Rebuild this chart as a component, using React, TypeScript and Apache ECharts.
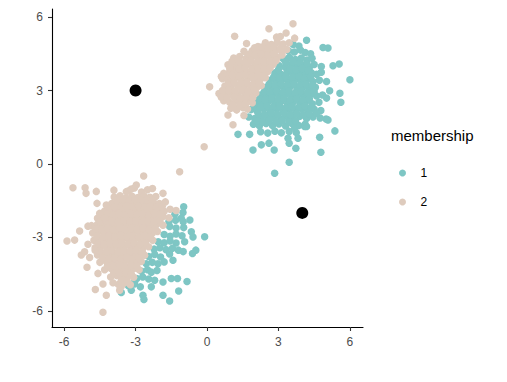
import React, { useEffect, useRef } from "react";
import * as echarts from "echarts";

const xTicks = [-6, -3, 0, 3, 6];
const yTicks = [-6, -3, 0, 3, 6];
const legendTitle = "membership";
const groupNames = ["1", "2"];
const groupColors = ["#7EC6C4", "#DECBBD"];

// membership 1 (teal)
const member1: number[][] = [
  // upper cluster
  [3.62, 4.88], [3.86, 4.82], [4.18, 5.05],
  [3.42, 4.62], [3.67, 4.57], [3.93, 4.65], [4.12, 4.55], [4.35, 4.5],
  [3.2, 4.3], [3.46, 4.36], [3.71, 4.27], [3.96, 4.33], [4.2, 4.24], [4.41, 4.32],
  [3.02, 4.02], [3.27, 3.96], [3.55, 4.05], [3.8, 3.98], [4.06, 4.04], [4.3, 3.95], [4.5, 4.06],
  [2.85, 3.72], [3.1, 3.66], [3.36, 3.75], [3.6, 3.68], [3.88, 3.74], [4.12, 3.65], [4.38, 3.73], [4.6, 3.66],
  [2.65, 3.42], [2.9, 3.36], [3.16, 3.45], [3.42, 3.38], [3.7, 3.44], [3.95, 3.35], [4.2, 3.43], [4.45, 3.37], [4.72, 3.42],
  [2.45, 3.12], [2.72, 3.06], [2.98, 3.14], [3.25, 3.08], [3.5, 3.15], [3.78, 3.05], [4.02, 3.12], [4.3, 3.07], [4.55, 3.13],
  [2.25, 2.82], [2.5, 2.76], [2.78, 2.85], [3.05, 2.78], [3.3, 2.84], [3.56, 2.76], [3.82, 2.83], [4.08, 2.77], [4.35, 2.85], [4.6, 2.78], [4.85, 2.82],
  [2.05, 2.52], [2.3, 2.46], [2.58, 2.55], [2.85, 2.47], [3.1, 2.54], [3.38, 2.45], [3.62, 2.53], [3.9, 2.48], [4.15, 2.55], [4.42, 2.46], [4.7, 2.52],
  [1.85, 2.22], [2.1, 2.16], [2.38, 2.25], [2.65, 2.17], [2.92, 2.24], [3.2, 2.15], [3.45, 2.23], [3.72, 2.18], [3.98, 2.24], [4.25, 2.16], [4.5, 2.23], [4.78, 2.18],
  [1.75, 1.92], [2.0, 1.86], [2.28, 1.95], [2.55, 1.87], [2.82, 1.93], [3.1, 1.85], [3.36, 1.94], [3.62, 1.88], [3.9, 1.95], [4.18, 1.86], [4.45, 1.92], [4.75, 1.88], [5.0, 1.84],
  [1.95, 1.62], [2.2, 1.56], [2.48, 1.65], [2.75, 1.57], [3.02, 1.63], [3.3, 1.55], [3.58, 1.64], [3.85, 1.57], [4.12, 1.62],
  [2.25, 1.32], [2.55, 1.26], [2.85, 1.34], [3.12, 1.27], [3.45, 1.33], [3.75, 1.28],
  // fill between rows in the dense core
  [3.3, 4.15], [3.6, 4.18], [3.9, 4.12], [4.2, 4.1], [3.0, 3.85], [3.5, 3.88], [3.75, 3.84], [4.0, 3.9], [4.25, 3.82],
  [2.8, 3.55], [3.05, 3.52], [3.3, 3.58], [3.58, 3.53], [3.85, 3.57], [4.1, 3.5], [4.35, 3.56],
  [2.6, 3.25], [2.85, 3.22], [3.12, 3.28], [3.38, 3.22], [3.65, 3.27], [3.9, 3.2], [4.15, 3.26], [4.42, 3.22],
  [2.4, 2.95], [2.65, 2.92], [2.92, 2.98], [3.18, 2.93], [3.44, 2.97], [3.7, 2.91], [3.95, 2.96], [4.22, 2.92], [4.5, 2.97],
  [2.2, 2.65], [2.45, 2.62], [2.72, 2.68], [2.98, 2.63], [3.24, 2.67], [3.5, 2.61], [3.76, 2.66], [4.02, 2.62], [4.3, 2.66],
  [2.0, 2.35], [2.25, 2.32], [2.52, 2.38], [2.78, 2.33], [3.05, 2.37], [3.32, 2.31], [3.58, 2.36], [3.85, 2.31], [4.12, 2.37], [4.38, 2.33],
  [2.15, 2.05], [2.42, 2.02], [2.7, 2.08], [2.96, 2.03], [3.24, 2.07], [3.5, 2.02], [3.76, 2.06], [4.04, 2.02], [4.3, 2.05],
  [2.1, 1.75], [2.35, 1.72], [2.62, 1.78], [2.9, 1.73], [3.16, 1.77], [3.44, 1.72], [3.72, 1.76],
  [4.87, 4.76], [5.08, 4.74], [4.8, 3.98], [4.8, 3.75], [5.29, 4.01], [5.55, 4.08], [6.0, 3.44],
  [5.02, 3.37], [5.15, 2.99], [5.58, 2.89], [5.62, 2.52], [5.02, 2.69], [5.08, 1.8], [5.37, 1.35],
  [4.73, 1.09], [4.78, 0.48], [3.73, 0.64], [3.45, 0.07], [2.84, -0.38], [3.82, 1.05], [3.4, 1.05],
  [3.45, 0.85], [4.1, 1.53], [3.68, 1.47], [1.3, 1.21], [1.79, 1.21], [1.93, 0.57], [2.28, 0.78],
  [2.6, 0.85], [2.82, 0.57], [4.6, 2.07], [4.18, 1.53],
  // lower cluster
  [-0.98, -1.75], [-1.01, -1.98],
  [-1.35, -2.05], [-1.08, -2.22],
  [-1.6, -2.35], [-1.32, -2.3], [-1.0, -2.36], [-0.72, -2.29],
  [-1.57, -2.55], [-1.3, -2.62], [-0.98, -2.6], [-0.66, -2.77],
  [-1.8, -2.88], [-1.55, -2.95], [-1.3, -2.86], [-1.05, -2.93], [-0.59, -2.98], [-0.1, -2.97],
  [-2.05, -3.18], [-1.8, -3.22], [-1.55, -3.15], [-1.3, -3.23], [-0.94, -3.18],
  [-2.22, -3.48], [-1.98, -3.42], [-1.72, -3.5], [-1.45, -3.44], [-1.2, -3.52], [-1.0, -3.58], [-0.47, -3.52],
  [-2.45, -3.78], [-2.2, -3.7], [-1.95, -3.8], [-1.57, -3.68], [-1.43, -3.93], [-0.61, -3.66],
  [-2.55, -4.08], [-2.3, -4.02], [-2.06, -4.08], [-1.8, -4.0],
  [-2.75, -4.38], [-2.5, -4.32], [-2.34, -4.42], [-2.1, -4.35],
  [-2.95, -4.68], [-2.7, -4.62], [-2.45, -4.7], [-2.2, -4.75], [-1.85, -4.82], [-1.5, -4.68], [-1.24, -4.68], [-0.84, -4.8],
  [-3.3, -4.98], [-3.05, -4.9], [-2.8, -5.02], [-2.34, -5.02], [-3.18, -5.16], [-3.6, -5.25],
  [-1.19, -5.19], [-1.85, -5.36], [-1.57, -5.6], [-2.69, -5.36], [-2.65, -5.54], [-3.04, -4.82],
];

// membership 2 (beige)
const member2: number[][] = [
  // upper cluster
  [1.66, 4.92], [2.14, 4.8], [2.45, 4.95], [2.7, 4.88], [2.95, 4.97], [3.2, 4.9], [3.45, 4.95],
  [1.55, 4.6], [1.9, 4.62], [2.15, 4.56], [2.4, 4.65], [2.65, 4.58], [2.9, 4.64], [3.15, 4.57], [3.35, 4.68],
  [1.12, 4.33], [1.37, 4.39], [1.65, 4.32], [1.9, 4.38], [2.15, 4.3], [2.42, 4.37], [2.68, 4.31], [2.95, 4.36], [3.15, 4.45],
  [0.88, 4.05], [1.2, 4.07], [1.45, 4.0], [1.72, 4.08], [2.0, 4.02], [2.25, 4.1], [2.5, 4.01], [2.78, 4.07],
  [0.7, 3.7], [0.95, 3.78], [1.2, 3.72], [1.48, 3.8], [1.75, 3.73], [2.02, 3.79], [2.28, 3.71], [2.55, 3.78],
  [0.65, 3.48], [0.9, 3.42], [1.18, 3.5], [1.45, 3.43], [1.72, 3.49], [2.0, 3.41], [2.25, 3.47], [2.45, 3.52],
  [0.75, 3.18], [1.0, 3.12], [1.28, 3.2], [1.55, 3.13], [1.82, 3.19], [2.08, 3.11], [2.28, 3.2],
  [0.5, 2.88], [0.78, 2.82], [1.05, 2.9], [1.3, 2.83], [1.58, 2.89], [1.85, 2.81], [2.05, 2.9],
  [0.7, 2.58], [0.95, 2.52], [1.22, 2.6], [1.5, 2.53], [1.75, 2.59], [1.9, 2.5],
  [1.0, 2.28], [1.25, 2.22], [1.52, 2.3], [1.7, 2.24],
  // fill between rows
  [2.0, 4.75], [2.3, 4.78], [2.55, 4.72], [2.82, 4.76], [3.08, 4.72],
  [1.75, 4.48], [2.02, 4.45], [2.28, 4.5], [2.55, 4.44], [2.82, 4.48],
  [1.05, 4.2], [1.32, 4.22], [1.58, 4.17], [1.85, 4.22], [2.12, 4.16], [2.38, 4.22], [2.65, 4.18], [2.9, 4.22],
  [1.08, 3.92], [1.35, 3.88], [1.6, 3.93], [1.88, 3.87], [2.15, 3.93], [2.4, 3.88], [2.65, 3.92],
  [0.82, 3.6], [1.08, 3.62], [1.35, 3.58], [1.62, 3.63], [1.9, 3.57], [2.15, 3.62], [2.4, 3.6],
  [0.9, 3.3], [1.15, 3.32], [1.42, 3.28], [1.68, 3.33], [1.95, 3.27], [2.18, 3.32],
  [0.65, 3.0], [0.92, 3.02], [1.18, 2.98], [1.45, 3.03], [1.72, 2.97], [1.98, 3.02],
  [0.6, 2.72], [0.85, 2.7], [1.12, 2.75], [1.4, 2.68], [1.65, 2.73], [1.92, 2.7],
  [1.1, 2.42], [1.38, 2.4], [1.62, 2.45],
  [3.61, 5.73], [2.6, 5.52], [1.16, 5.22], [3.32, 5.35], [2.92, 5.18], [3.68, 5.14], [3.08, 5.21],
  [0.11, 3.15], [0.6, 3.57], [0.95, 3.92], [0.88, 2.0], [1.09, 1.6], [1.55, 1.98], [1.24, 2.21],
  [-0.12, 0.7], [-1.15, -0.32],
  // lower cluster
  [-3.3, -1.1], [-3.05, -0.98], [-2.75, -1.15], [-2.5, -1.05],
  [-3.9, -1.35], [-3.65, -1.3], [-3.4, -1.38], [-3.15, -1.32], [-2.9, -1.37], [-2.65, -1.3], [-2.4, -1.36], [-2.15, -1.33],
  [-4.0, -1.62], [-3.75, -1.57], [-3.5, -1.65], [-3.25, -1.58], [-3.0, -1.64], [-2.75, -1.56], [-2.5, -1.63], [-2.25, -1.58], [-2.0, -1.62], [-1.75, -1.55],
  [-4.3, -1.92], [-4.05, -1.86], [-3.8, -1.94], [-3.55, -1.87], [-3.3, -1.93], [-3.05, -1.85], [-2.8, -1.92], [-2.55, -1.86], [-2.3, -1.94], [-2.05, -1.87], [-1.8, -1.93], [-1.55, -1.85], [-1.3, -1.9],
  [-4.6, -2.22], [-4.35, -2.16], [-4.1, -2.24], [-3.85, -2.17], [-3.6, -2.23], [-3.35, -2.15], [-3.1, -2.22], [-2.85, -2.16], [-2.6, -2.24], [-2.35, -2.17], [-2.1, -2.23], [-1.85, -2.15], [-1.6, -2.2],
  [-4.85, -2.52], [-4.6, -2.46], [-4.35, -2.54], [-4.1, -2.47], [-3.85, -2.53], [-3.6, -2.45], [-3.35, -2.52], [-3.1, -2.46], [-2.85, -2.54], [-2.6, -2.47], [-2.35, -2.53], [-2.1, -2.45], [-1.85, -2.5],
  [-4.8, -2.82], [-4.55, -2.76], [-4.3, -2.84], [-4.05, -2.77], [-3.8, -2.83], [-3.55, -2.75], [-3.3, -2.82], [-3.05, -2.76], [-2.8, -2.84], [-2.55, -2.77], [-2.3, -2.83], [-2.08, -2.76],
  [-4.75, -3.12], [-4.5, -3.06], [-4.25, -3.14], [-4.0, -3.07], [-3.75, -3.13], [-3.5, -3.05], [-3.25, -3.12], [-3.0, -3.06], [-2.75, -3.14], [-2.5, -3.07], [-2.28, -3.12],
  [-4.7, -3.42], [-4.45, -3.36], [-4.2, -3.44], [-3.95, -3.37], [-3.7, -3.43], [-3.45, -3.35], [-3.2, -3.42], [-2.95, -3.36], [-2.7, -3.44], [-2.45, -3.38],
  [-4.6, -3.72], [-4.35, -3.66], [-4.1, -3.74], [-3.85, -3.67], [-3.6, -3.73], [-3.35, -3.65], [-3.1, -3.72], [-2.85, -3.66], [-2.62, -3.73],
  [-4.5, -4.02], [-4.25, -3.96], [-4.0, -4.04], [-3.75, -3.97], [-3.5, -4.03], [-3.25, -3.95], [-3.0, -4.02], [-2.76, -3.98],
  [-4.3, -4.32], [-4.05, -4.26], [-3.8, -4.34], [-3.55, -4.27], [-3.3, -4.33], [-3.05, -4.26], [-2.85, -4.32],
  [-4.05, -4.62], [-3.8, -4.56], [-3.55, -4.64], [-3.3, -4.57], [-3.08, -4.63],
  [-3.72, -4.92], [-3.47, -4.86], [-3.22, -4.93],
  // fill between rows
  [-3.78, -1.48], [-3.52, -1.45], [-3.28, -1.5], [-3.02, -1.46], [-2.78, -1.5], [-2.52, -1.45], [-2.28, -1.48],
  [-3.88, -1.75], [-3.62, -1.78], [-3.38, -1.73], [-3.12, -1.78], [-2.88, -1.72], [-2.62, -1.77], [-2.38, -1.73], [-2.12, -1.78], [-1.88, -1.73],
  [-4.2, -2.05], [-3.95, -2.08], [-3.7, -2.03], [-3.45, -2.08], [-3.2, -2.02], [-2.95, -2.07], [-2.7, -2.03], [-2.45, -2.08], [-2.2, -2.03], [-1.95, -2.07],
  [-4.48, -2.35], [-4.22, -2.38], [-3.98, -2.33], [-3.72, -2.38], [-3.48, -2.32], [-3.22, -2.37], [-2.98, -2.33], [-2.72, -2.38], [-2.48, -2.32], [-2.22, -2.37], [-1.98, -2.33],
  [-4.68, -2.65], [-4.42, -2.68], [-4.18, -2.63], [-3.92, -2.68], [-3.68, -2.62], [-3.42, -2.67], [-3.18, -2.63], [-2.92, -2.68], [-2.68, -2.62], [-2.42, -2.67], [-2.18, -2.63],
  [-4.62, -2.95], [-4.38, -2.98], [-4.12, -2.93], [-3.88, -2.98], [-3.62, -2.92], [-3.38, -2.97], [-3.12, -2.93], [-2.88, -2.98], [-2.62, -2.92], [-2.38, -2.97],
  [-4.58, -3.25], [-4.32, -3.28], [-4.08, -3.23], [-3.82, -3.28], [-3.58, -3.22], [-3.32, -3.27], [-3.08, -3.23], [-2.82, -3.28], [-2.58, -3.22],
  [-4.48, -3.55], [-4.22, -3.58], [-3.98, -3.53], [-3.72, -3.58], [-3.48, -3.52], [-3.22, -3.57], [-2.98, -3.53], [-2.72, -3.58],
  [-4.38, -3.85], [-4.12, -3.88], [-3.88, -3.83], [-3.62, -3.88], [-3.38, -3.82], [-3.12, -3.87], [-2.88, -3.83],
  [-4.18, -4.15], [-3.92, -4.18], [-3.68, -4.13], [-3.42, -4.18], [-3.18, -4.12], [-2.95, -4.17],
  [-3.92, -4.45], [-3.68, -4.48], [-3.42, -4.43], [-3.18, -4.48],
  [-3.6, -4.75], [-3.35, -4.78],
  [-5.63, -0.97], [-5.12, -0.97], [-5.08, -1.2], [-4.65, -1.12], [-3.91, -1.07], [-2.66, -0.49],
  [-2.29, -1.0], [-1.85, -1.2], [-2.97, -0.86], [-3.39, -1.13], [-3.18, -1.02], [-4.62, -1.61],
  [-4.23, -1.68], [-4.51, -2.02], [-4.3, -2.2], [-5.0, -2.54], [-5.35, -2.74], [-5.56, -3.11],
  [-5.88, -3.15], [-5.0, -3.28], [-5.14, -3.59], [-5.28, -3.72], [-4.93, -3.82], [-4.7, -3.52],
  [-5.04, -4.22], [-4.58, -4.47], [-4.69, -5.13], [-4.23, -5.36], [-4.37, -6.06], [-4.37, -4.9],
  [-3.95, -4.85], [-3.6, -5.0], [-3.67, -5.16],
];

// cluster centres (black)
const centres: number[][] = [
  [-3, 3],
  [4, -2],
];

const FONT = "Liberation Sans, Arial, sans-serif";

export default function App() {
  const ref = useRef<HTMLDivElement>(null);
  useEffect(() => {
    if (!ref.current) return;
    const chart = echarts.init(ref.current, undefined, { renderer: "svg" });
    const axisCommon = {
      axisLine: { show: true, onZero: false, lineStyle: { color: "#000", width: 1.1 } },
      axisTick: { show: true, length: 4, lineStyle: { color: "#333", width: 1.1 } },
      splitLine: { show: false },
      axisLabel: { color: "#4D4D4D", fontSize: 12, fontFamily: FONT, margin: 9 },
    };
    chart.setOption({
      animation: false,
      backgroundColor: "#fff",
      grid: { left: 52, top: 9, width: 311, height: 318, containLabel: false },
      xAxis: {
        type: "value",
        min: -6.51,
        max: 6.55,
        ...axisCommon,
        axisTick: { ...axisCommon.axisTick, customValues: xTicks },
        axisLabel: { ...axisCommon.axisLabel, customValues: xTicks },
      },
      yAxis: {
        type: "value",
        min: -6.66,
        max: 6.33,
        ...axisCommon,
        axisTick: { ...axisCommon.axisTick, customValues: yTicks },
        axisLabel: { ...axisCommon.axisLabel, customValues: yTicks },
      },
      legend: {
        orient: "vertical",
        left: 394,
        top: 161,
        itemWidth: 26,
        itemHeight: 7,
        itemGap: 15,
        icon: "circle",
        data: groupNames,
        textStyle: { fontSize: 12, lineHeight: 14, color: "#000", fontFamily: FONT },
      },
      graphic: [
        {
          type: "text",
          left: 391,
          top: 128,
          style: { text: legendTitle, fontSize: 15, fill: "#000", fontFamily: FONT },
        },
      ],
      series: [
        {
          name: groupNames[0],
          type: "scatter",
          data: member1,
          symbolSize: 7.5,
          itemStyle: { color: groupColors[0], opacity: 1 },
        },
        {
          name: groupNames[1],
          type: "scatter",
          data: member2,
          symbolSize: 7.5,
          itemStyle: { color: groupColors[1], opacity: 1 },
        },
        {
          name: "centres",
          type: "scatter",
          data: centres,
          symbolSize: 12,
          itemStyle: { color: "#000", opacity: 1 },
        },
      ],
    });
    return () => chart.dispose();
  }, []);
  return <div ref={ref} style={{ width: 507, height: 382, position: "absolute", left: 0, top: 0 }} />;
}
